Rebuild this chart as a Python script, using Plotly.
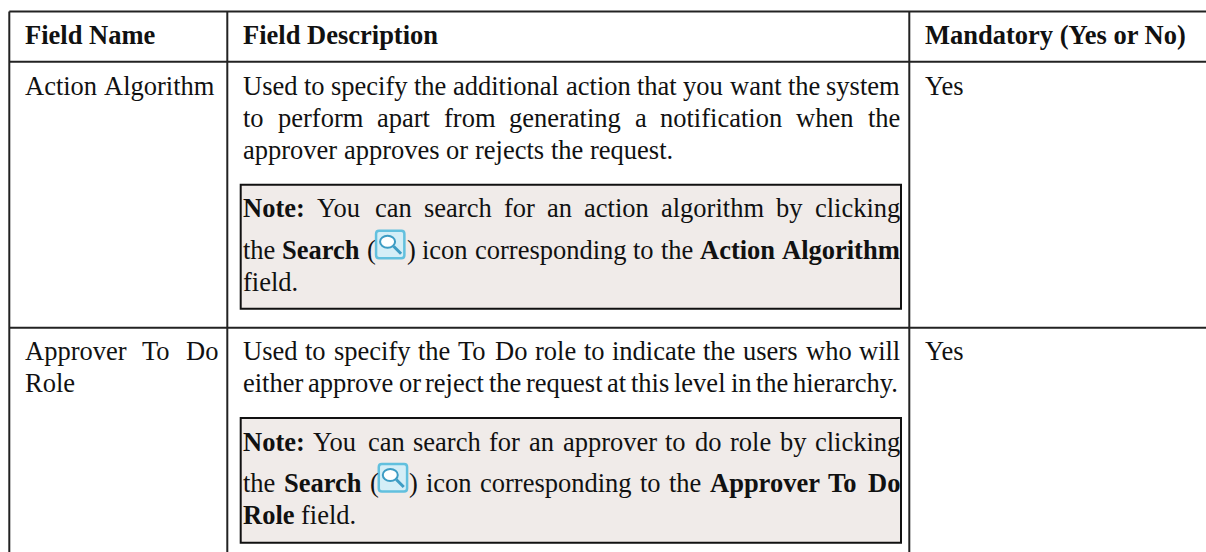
import plotly.graph_objects as go

# ---------- content ----------
headers = ["<b>Field Name</b>", "<b>Field Description</b>", "<b>Mandatory (Yes or No)</b>"]
field_names = [["Action Algorithm"], ["Approver To Do", "Role"]]
descriptions = [
    ["Used to specify the additional action that you want the system",
     "to perform apart from generating a notification when the",
     "approver approves or rejects the request."],
    ["Used to specify the To Do role to indicate the users who will",
     "either approve or reject the request at this level in the hierarchy."],
]
notes = [
    ["<b>Note:</b> You can search for an action algorithm by clicking",
     "the <b>Search</b> (§) icon corresponding to the <b>Action</b> <b>Algorithm</b>",
     "field."],
    ["<b>Note:</b> You can search for an approver to do role by clicking",
     "the <b>Search</b> (§) icon corresponding to the <b>Approver</b> <b>To</b> <b>Do</b>",
     "<b>Role</b> field."],
]
mandatory = ["Yes", "Yes"]

# ---------- geometry and style ----------
W, H = 1206, 552
FONT = "Liberation Serif"
FS = 26.5
INK = "#111111"
RULE = "#222222"
NOTE_BG = "#f0ebe9"
T_L, C2, C3, T_R = 9.3, 227.3, 909.3, 1210
T_TOP, HEAD_B, ROW_B, T_B = 11.5, 61.7, 327.7, 560

REG = dict(zip("abcdefghijklmnopqrstuvwxyz", [444,500,444,500,444,333,500,500,278,278,500,278,778,500,500,500,500,333,389,278,500,500,722,500,500,444]))
REG.update(zip("ABCDEFGHIJKLMNOPQRSTUVWXYZ", [722,667,667,722,611,556,722,722,333,389,722,611,889,722,722,556,722,667,556,611,722,722,944,722,722,611]))
BLD = dict(zip("abcdefghijklmnopqrstuvwxyz", [500,556,444,556,444,333,500,556,278,333,556,278,833,556,500,556,556,444,389,333,556,500,722,500,500,444]))
BLD.update(zip("ABCDEFGHIJKLMNOPQRSTUVWXYZ", [722,667,722,722,667,611,778,778,389,500,778,667,944,722,778,611,778,722,556,667,722,722,1000,722,722,667]))
for t, c in ((REG, 278), (BLD, 333)):
    t.update({" ": 250, ".": 250, ",": 250, ":": c, "(": 333, ")": 333})
ICON_W = 30.5


def width(word):
    bold = word.startswith("<b>")
    w = word.replace("<b>", "").replace("</b>", "")
    total = 0
    for ch in w:
        total += ICON_W if ch == "§" else (BLD if bold else REG)[ch] * FS / 1000
    return total


shapes, ann = [], []


def put(text, x, base):
    ann.append(dict(text=text, x=x, y=base - FS * 0.30, xref="x", yref="y", xanchor="left",
                    yanchor="middle", showarrow=False, align="left",
                    font=dict(family=FONT, size=FS, color=INK), borderpad=0))


def icon(x, base):
    top = base - 27
    w, h, r = 28.3, 27.6, 3
    x1, y1 = x + w, top + h
    path = (f"M {x+r} {top} L {x1-r} {top} Q {x1} {top} {x1} {top+r} L {x1} {y1-r} Q {x1} {y1} {x1-r} {y1} "
            f"L {x+r} {y1} Q {x} {y1} {x} {y1-r} L {x} {top+r} Q {x} {top} {x+r} {top} Z")
    shapes.append(dict(type="path", path=path, xref="x", yref="y",
                       fillcolor="#d4eef7", line=dict(color="#62c0de", width=2.5)))
    shapes.append(dict(type="circle", x0=x + 4, x1=x + 19, y0=top + 5, y1=top + 17, xref="x", yref="y",
                       fillcolor="#ffffff", line=dict(color="#3d9cc4", width=2)))
    shapes.append(dict(type="line", x0=x + 17.5, x1=x + 25, y0=top + 15.5, y1=top + 23, xref="x", yref="y",
                       line=dict(color="#3d9cc4", width=3)))


def line(text, left, base, right=None):
    words = text.split(" ")
    widths = [width(w) for w in words]
    sp = FS * 0.25
    if right is not None and len(words) > 1:
        sp = (right - left - sum(widths)) / (len(words) - 1)
    x = left
    for w, wd in zip(words, widths):
        if "§" in w:
            a, b = w.split("§")
            put(a, x, base)
            ix = x + width(a)
            icon(ix + 1, base)
            put(b, ix + ICON_W, base)
        else:
            put(w, x, base)
        x += wd + sp


def rule(x0, y0, x1, y1, lw=2, color=RULE):
    shapes.append(dict(type="line", x0=x0, x1=x1, y0=y0, y1=y1, xref="x", yref="y",
                       line=dict(color=color, width=lw)))


# note boxes
NB_L, NB_R = 240.7, 901
NOTE_Y = [(184.7, 308.7), (418, 542.7)]
for y0, y1 in NOTE_Y:
    shapes.append(dict(type="rect", x0=NB_L, x1=NB_R, y0=y0, y1=y1, xref="x", yref="y",
                       fillcolor=NOTE_BG, line=dict(color="#111111", width=2)))

# table rules
for yy in (T_TOP, HEAD_B, ROW_B):
    rule(T_L, yy, T_R, yy)
for xx in (T_L, C2, C3):
    rule(xx, T_TOP, xx, T_B)

# header text
COL_X = [24.3, 242.3, 924]
for h, x in zip(headers, COL_X):
    put(h, x, 42.7)

# row text
D_L, D_R = 242.3, 899
N_L, N_R = 242, 899
rows = [
    dict(name=[94.3], desc=[94.3, 126, 158], note=[215.7, 257.7, 290], mand=94.3, just=[True, True, False], name_just=[False]),
    dict(name=[359, 391], desc=[359, 391], note=[450, 491, 523], mand=359, just=[True, True], name_just=[True, False]),
]
for i, r in enumerate(rows):
    for t, b, j in zip(field_names[i], r["name"], r["name_just"]):
        line(t, COL_X[0], b, right=217 if j else None)
    for t, b, j in zip(descriptions[i], r["desc"], r["just"]):
        line(t, D_L, b, right=D_R if j else None)
    for k, (t, b) in enumerate(zip(notes[i], r["note"])):
        line(t, N_L, b, right=N_R if k < 2 else None)
    put(mandatory[i], COL_X[2], r["mand"])

fig = go.Figure()
fig.update_layout(
    width=W, height=H, margin=dict(l=0, r=0, t=0, b=0),
    paper_bgcolor="white", plot_bgcolor="white", showlegend=False,
    xaxis=dict(range=[0, W], visible=False, fixedrange=True),
    yaxis=dict(range=[H, 0], visible=False, fixedrange=True),
    shapes=shapes, annotations=ann,
)
POST = """
document.documentElement.style.overflow='hidden';
document.body.style.margin='0';
"""
fig.write_html("out.html", config=dict(displayModeBar=False), post_script=POST)
